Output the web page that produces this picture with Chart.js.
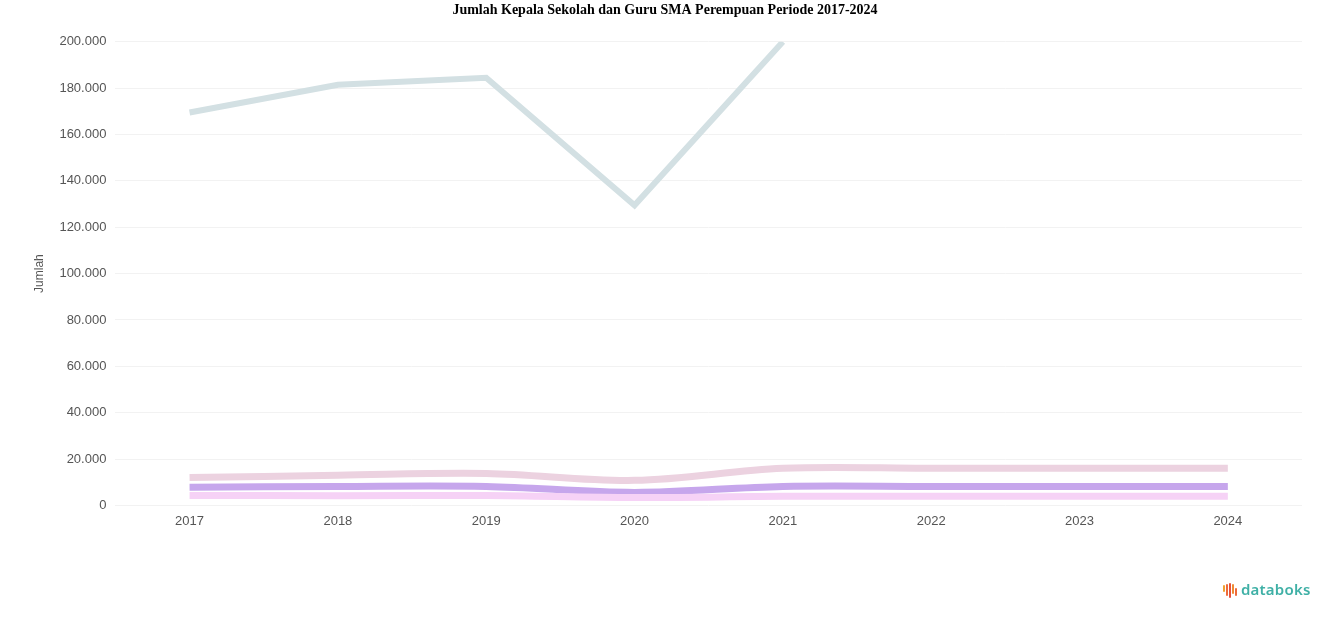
<!DOCTYPE html>
<html>
<head>
<meta charset="utf-8">
<script src="https://cdn.jsdelivr.net/npm/chart.js@4.4.1/dist/chart.umd.min.js"></script>
<style>
  html, body { margin: 0; padding: 0; background: #ffffff; }
  #wrap { position: relative; width: 1324px; height: 617px; }
  #c { position: absolute; left: 0; top: 0; }
  #logo { position: absolute; left: 1222px; top: 576px; height: 22px; display: flex; align-items: flex-end; }
  #logo .icon { position: relative; width: 17px; height: 18px; margin-right: 2px; }
  #logo .icon span { position: absolute; bottom: 2px; width: 2px; border-radius: 1px; }
  #logo .txt { font-family: "Noto Sans", sans-serif; font-weight: 600; font-size: 15px; color: #3fb0a6; line-height: 18px; letter-spacing: 0.2px; }
</style>
</head>
<body>
<div id="wrap">
  <canvas id="c" width="1324" height="617"></canvas>
  <div id="logo">
    <div class="icon">
      <span style="left:1px;height:7px;bottom:6px;background:#f0a030"></span>
      <span style="left:4px;height:12px;background:#ee6a3a"></span>
      <span style="left:7px;height:15px;bottom:0px;background:#e8503a"></span>
      <span style="left:10px;height:10px;bottom:4px;background:#f08a34"></span>
      <span style="left:13px;height:8px;background:#ee6a3a"></span>
    </div>
    <div class="txt">databoks</div>
  </div>
</div>
<script>
const categories = ["2017", "2018", "2019", "2020", "2021", "2022", "2023", "2024"];
const seriesTotal = [169500, 181500, 184500, 129500, 200000, null, null, null];
const seriesPink = [12000, 13000, 13800, 10800, 16000, 16000, 16000, 16000];
const seriesPurple = [7800, 8200, 8200, 5600, 8200, 8200, 8200, 8200];
const seriesMagenta = [4300, 4200, 4300, 3400, 3900, 3900, 3900, 3900];
const seriesNames = ["Guru Perempuan", "Guru PNS Perempuan", "Guru Non PNS Perempuan", "Kepala Sekolah Perempuan"];
const yTicks = [0, 20000, 40000, 60000, 80000, 100000, 120000, 140000, 160000, 180000, 200000];

function fmt(v) {
  return v === 0 ? "0" : v.toString().replace(/\B(?=(\d{3})+(?!\d))/g, ".");
}

new Chart(document.getElementById("c"), {
  type: "line",
  data: {
    labels: categories,
    datasets: [
      { label: seriesNames[0], data: seriesTotal, borderColor: "#d3e0e3", borderWidth: 6, tension: 0, pointRadius: 0 },
      { label: seriesNames[1], data: seriesPink, borderColor: "#ecd2e0", borderWidth: 7, tension: 0.35, pointRadius: 0 },
      { label: seriesNames[3], data: seriesMagenta, borderColor: "#f6d2f6", borderWidth: 7, tension: 0.35, pointRadius: 0 },
      { label: seriesNames[2], data: seriesPurple, borderColor: "#c6a6ec", borderWidth: 7, tension: 0.35, pointRadius: 0 }
    ]
  },
  options: {
    responsive: false,
    animation: false,
    layout: { padding: { left: 28, right: 22, top: 0, bottom: 88 } },
    plugins: {
      legend: { display: false },
      tooltip: { enabled: false },
      title: {
        display: true,
        text: "Jumlah Kepala Sekolah dan Guru SMA Perempuan Periode 2017-2024",
        font: { family: "Liberation Serif", size: 14, weight: "bold" },
        color: "#000000",
        padding: { top: 2, bottom: 23 }
      }
    },
    scales: {
      x: {
        offset: true,
        grid: { display: false },
        border: { display: false },
        ticks: { color: "#555555", font: { family: "Liberation Sans", size: 13 }, padding: 0 }
      },
      y: {
        min: 0,
        max: 200000,
        afterBuildTicks: (axis) => { axis.ticks = yTicks.map(v => ({ value: v })); },
        grid: { color: "#f2f2f2", lineWidth: 1, drawTicks: false },
        border: { display: false },
        title: { display: true, text: "Jumlah", color: "#555555", font: { family: "Liberation Sans", size: 12 } },
        ticks: { color: "#555555", font: { family: "Liberation Sans", size: 13 }, padding: 9, callback: (v) => fmt(v) }
      }
    }
  }
});
</script>
</body>
</html>
